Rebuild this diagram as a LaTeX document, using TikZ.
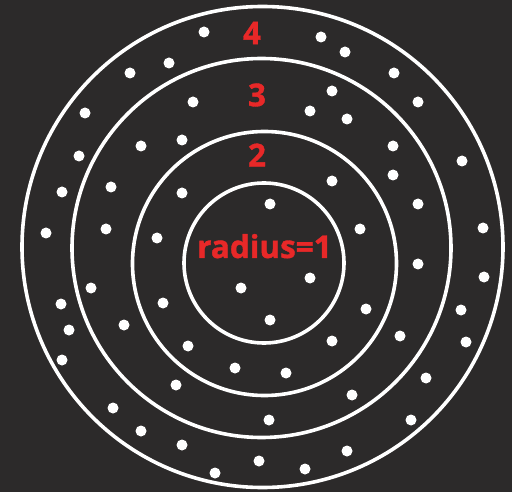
\documentclass[tikz,border=0pt]{standalone}
\usepackage{fontspec}
\setmainfont{Open Sans}
\newfontfamily\labfont{Open Sans}[UprightFont={* Bold},FakeBold=1.2]
\definecolor{bg}{RGB}{44,42,42}
\definecolor{lbl}{RGB}{232,40,40}
\begin{document}
\begin{tikzpicture}[x=1pt,y=-1pt,
  ring/.style={draw=white,line width=3.6pt,circle,inner sep=0pt},
  dot/.style={fill=white,circle,inner sep=0pt,minimum size=11pt},
  lab/.style={text=lbl,font=\labfont\fontsize{31.5}{31.5}\selectfont,inner sep=0pt}]
\fill[bg] (0,0) rectangle (512,492);
\useasboundingbox (0,0) rectangle (512,492);
\node[ring,minimum size=481pt] (r4) at (262.5,247) {};
\node[ring,minimum size=379pt] (r3) at (261.5,248) {};
\node[ring,minimum size=264pt] (r2) at (264.5,263.5) {};
\node[ring,minimum size=160pt] (r1) at (264,263) {};
\foreach \x/\y [count=\i] in {
 204/32,321/37,345/52,130/73,169/63,394/73,193/102,332/91,310/111,347/119,
 418/102,85/113,141/146,182/140,393/146,462/161,79/156,393/175,111/187,62/192,
 182/193,332/181,270/204,418/204,46/233,106/229,157/238,360/229,483/228,
 241/288,91/288,61/304,163/303,69/330,124/325,62/360,188/346,235/368,176/385,
 113/408,141/431,182/445,215/473,259/461,
 310/278,270/320,418/264,484/277,366/309,461/310,332/341,400/336,466/342,286/373,
 426/378,352/395,269/420,411/420,347/451,305/469}
 \node[dot] (d\i) at (\x,\y) {};
\node[lab] (l4) at (252,33) {4};
\node[lab] (l3) at (257,95) {3};
\node[lab] (l2) at (257,155) {2};
\node[lab,anchor=base] (l1) at (264.5,258) {radius=1};
\end{tikzpicture}
\end{document}
